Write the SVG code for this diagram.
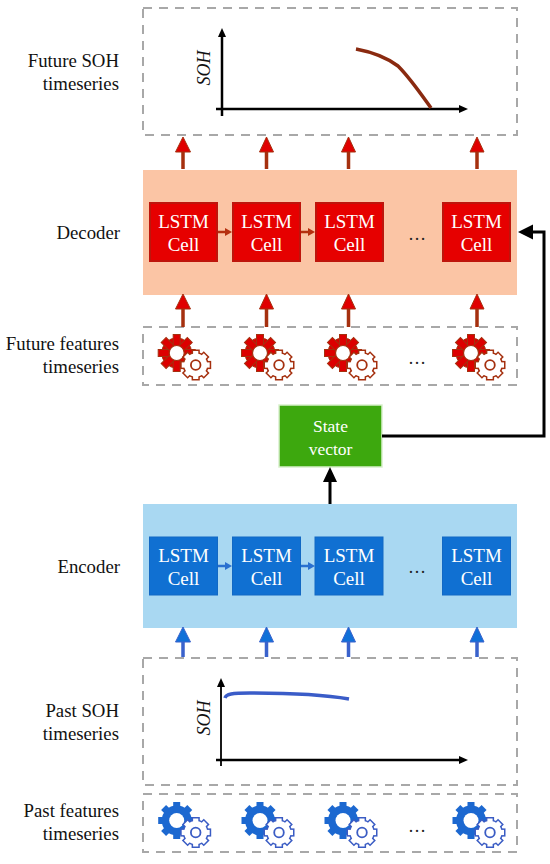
<svg xmlns="http://www.w3.org/2000/svg" xmlns:xlink="http://www.w3.org/1999/xlink" width="550" height="864" viewBox="0 0 550 864">
<style>
text{font-family:"Liberation Serif","Times New Roman",serif;}
.lab{font-size:18.8px;fill:#111;text-anchor:end;}
.cellt{font-size:19px;text-anchor:middle;fill:#fff;}
.cr{fill:#E60000;stroke:#BE150C;stroke-width:2;}
.cb{fill:#1070D2;stroke:#1268C4;stroke-width:1;}
.dash{fill:none;stroke:#A8A8A8;stroke-width:2;stroke-dasharray:9 7;}
.axis{fill:none;stroke:#000;stroke-width:2.5;}
.dots{font-size:18px;text-anchor:middle;fill:#222;}
.soh{font-size:18px;font-style:italic;text-anchor:middle;fill:#111;}
.ra{stroke:#A5300F;stroke-width:3.5;fill:none;}
.rh{fill:#E00000;stroke:#A5300F;stroke-width:1;}
.ba{stroke:#3A62CC;stroke-width:3.5;fill:none;}
.bh{fill:#1070D8;stroke:#3A62CC;stroke-width:1;}
</style>
<defs>
<g id="teethL"><circle r="15"/><rect x="-18.500" y="-3.5" width="37" height="7"/><rect x="-18.500" y="-3.5" width="37" height="7" transform="rotate(45)"/><rect x="-18.500" y="-3.5" width="37" height="7" transform="rotate(90)"/><rect x="-18.500" y="-3.5" width="37" height="7" transform="rotate(135)"/></g>
<g id="teethS"><circle r="11.5"/><rect x="-14" y="-2.6" width="28" height="5.2"/><rect x="-14" y="-2.6" width="28" height="5.2" transform="rotate(45)"/><rect x="-14" y="-2.6" width="28" height="5.2" transform="rotate(90)"/><rect x="-14" y="-2.6" width="28" height="5.2" transform="rotate(135)"/></g>
<g id="gearRed">
<use xlink:href="#teethL" href="#teethL" fill="#DC0000" stroke="#A5300F" stroke-width="1"/>
<circle r="7.500" fill="#fff" stroke="#A5300F" stroke-width="1.200"/>
<g transform="translate(19,12)">
<use xlink:href="#teethS" href="#teethS" fill="#A5300F" stroke="#A5300F" stroke-width="3"/>
<use xlink:href="#teethS" href="#teethS" fill="#fff"/>
<circle r="4.8" fill="none" stroke="#A5300F" stroke-width="1.800"/>
</g>
</g>
<g id="gearBlue">
<use xlink:href="#teethL" href="#teethL" fill="#1C68D0"/>
<circle r="7.5" fill="#fff"/>
<g transform="translate(19,12)">
<use xlink:href="#teethS" href="#teethS" fill="#3A5CC4" stroke="#3A5CC4" stroke-width="3"/>
<use xlink:href="#teethS" href="#teethS" fill="#fff"/>
<circle r="4.8" fill="none" stroke="#3A5CC4" stroke-width="1.800"/>
</g>
</g>
</defs>

<g id="future-soh">
<rect class="dash" x="143" y="8" width="374" height="127"/>
<path class="axis" d="M222 116V34"/>
<path d="M222 28l-4 9h8z" fill="#000"/>
<path class="axis" d="M216 109H460"/>
<path d="M468 109l-9-4v8z" fill="#000"/>
<text class="soh" transform="translate(210,68) rotate(-90)">SOH</text>
<path d="M356 49C372 52 386 57 398 66C410 78 421 94 431 108" fill="none" stroke="#8A2A10" stroke-width="3.500"/>
<text class="lab" x="119" y="67">Future SOH</text>
<text class="lab" x="119" y="90">timeseries</text>
</g>

<g id="decoder">
<rect x="143" y="170" width="374" height="125" fill="#FBC5A5"/>
<text class="lab" x="120" y="239">Decoder</text>
<text class="dots" x="417" y="240">…</text>
</g>
<g id="dec-cell-1"><rect class="cr" x="150" y="203" width="67" height="58"/><text class="cellt" x="183.500" y="228">LSTM</text><text class="cellt" x="183.500" y="251">Cell</text></g>
<g id="dec-cell-2"><rect class="cr" x="233" y="203" width="67" height="58"/><text class="cellt" x="266.500" y="228">LSTM</text><text class="cellt" x="266.500" y="251">Cell</text></g>
<g id="dec-cell-3"><rect class="cr" x="316" y="203" width="67" height="58"/><text class="cellt" x="349.500" y="228">LSTM</text><text class="cellt" x="349.500" y="251">Cell</text></g>
<g id="dec-cell-4"><rect class="cr" x="443" y="203" width="67" height="58"/><text class="cellt" x="476.500" y="228">LSTM</text><text class="cellt" x="476.500" y="251">Cell</text></g>

<g id="future-features">
<rect class="dash" x="143" y="327" width="374" height="58"/>
<use xlink:href="#gearRed" href="#gearRed" x="176.700" y="353"/>
<use xlink:href="#gearRed" href="#gearRed" x="260" y="353"/>
<use xlink:href="#gearRed" href="#gearRed" x="343" y="353"/>
<use xlink:href="#gearRed" href="#gearRed" x="471" y="353"/>
<text class="dots" x="417" y="364">…</text>
<text class="lab" x="119" y="350">Future features</text>
<text class="lab" x="119" y="373">timeseries</text>
</g>

<g id="state-vector">
<rect x="279" y="405" width="103" height="62" fill="#3DA80E" stroke="#D8EFCC" stroke-width="1.500"/>
<text class="cellt" x="330.500" y="432" style="font-size:17.5px">State</text>
<text class="cellt" x="330.500" y="455" style="font-size:17.5px">vector</text>
</g>

<g id="encoder">
<rect x="143" y="504" width="374" height="124" fill="#A9D8F2"/>
<text class="lab" x="120" y="573">Encoder</text>
<text class="dots" x="417" y="573">…</text>
</g>
<g id="enc-cell-1"><rect class="cb" x="149.500" y="537" width="68" height="58"/><text class="cellt" x="183.500" y="562">LSTM</text><text class="cellt" x="183.500" y="585">Cell</text></g>
<g id="enc-cell-2"><rect class="cb" x="232.500" y="537" width="68" height="58"/><text class="cellt" x="266.500" y="562">LSTM</text><text class="cellt" x="266.500" y="585">Cell</text></g>
<g id="enc-cell-3"><rect class="cb" x="315" y="537" width="68" height="58"/><text class="cellt" x="349" y="562">LSTM</text><text class="cellt" x="349" y="585">Cell</text></g>
<g id="enc-cell-4"><rect class="cb" x="442.500" y="537" width="68" height="58"/><text class="cellt" x="476.500" y="562">LSTM</text><text class="cellt" x="476.500" y="585">Cell</text></g>

<g id="past-soh">
<rect class="dash" x="143" y="658" width="374" height="127"/>
<path d="M221 766V684" fill="none" stroke="#000" stroke-width="1.800"/>
<path d="M221 678l-4 9h8z" fill="#000"/>
<path class="axis" d="M216 760H460"/>
<path d="M468 760l-9-4v8z" fill="#000"/>
<text class="soh" transform="translate(210,718) rotate(-90)">SOH</text>
<path d="M225 698C226 694 232 693 250 693C290 693 320 694 349 699" fill="none" stroke="#3A5CC8" stroke-width="3.500"/>
<text class="lab" x="119" y="717">Past SOH</text>
<text class="lab" x="119" y="740">timeseries</text>
</g>

<g id="past-features">
<rect class="dash" x="143" y="794" width="374" height="58"/>
<use xlink:href="#gearBlue" href="#gearBlue" x="176.700" y="820.500"/>
<use xlink:href="#gearBlue" href="#gearBlue" x="260" y="820.500"/>
<use xlink:href="#gearBlue" href="#gearBlue" x="343" y="820.500"/>
<use xlink:href="#gearBlue" href="#gearBlue" x="471" y="820.500"/>
<text class="dots" x="417" y="832">…</text>
<text class="lab" x="119" y="817">Past features</text>
<text class="lab" x="119" y="840">timeseries</text>
</g>

<g id="connectors">
<g class="ra">
<path d="M183 169V148M266.500 169V148M348.500 169V148M477 169V148"/>
<path d="M183 327V306M266.500 327V306M348.500 327V306M477 327V306"/>
</g>
<path class="rh" d="M183 137l7.500 15h-15zM266.500 137l7 15h-14zM348.500 137l7 15h-14zM477 137l7 15h-14z"/>
<path class="rh" d="M183 294l7.500 15h-15zM266.500 294l7 15h-14zM348.500 294l7 15h-14zM477 294l7 15h-14z"/>
<path d="M218 232H226M301 232H309" stroke="#B5300F" stroke-width="2.500" fill="none"/>
<path d="M232 232l-7-4v8zM315 232l-7-4v8z" fill="#B5300F"/>
<path d="M218 566H226M301 566H309" stroke="#2A70D0" stroke-width="2.500" fill="none"/>
<path d="M232 566l-7-4v8zM315 566l-7-4v8z" fill="#2A70D0"/>
<g class="ba"><path d="M183 657V638M266.500 657V638M348.500 657V638M477 657V638"/></g>
<path class="bh" d="M183 627l7.500 15h-15zM266.500 627l7 15h-14zM348.500 627l7 15h-14zM477 627l7 15h-14z"/>
<path d="M330 504V478" fill="none" stroke="#000" stroke-width="3"/>
<path d="M330 467l7 15h-14z" fill="#000"/>
<path d="M382 436H544V232H530" fill="none" stroke="#000" stroke-width="3"/>
<path d="M518 232l15-7.500v15z" fill="#000"/>
</g>
</svg>
